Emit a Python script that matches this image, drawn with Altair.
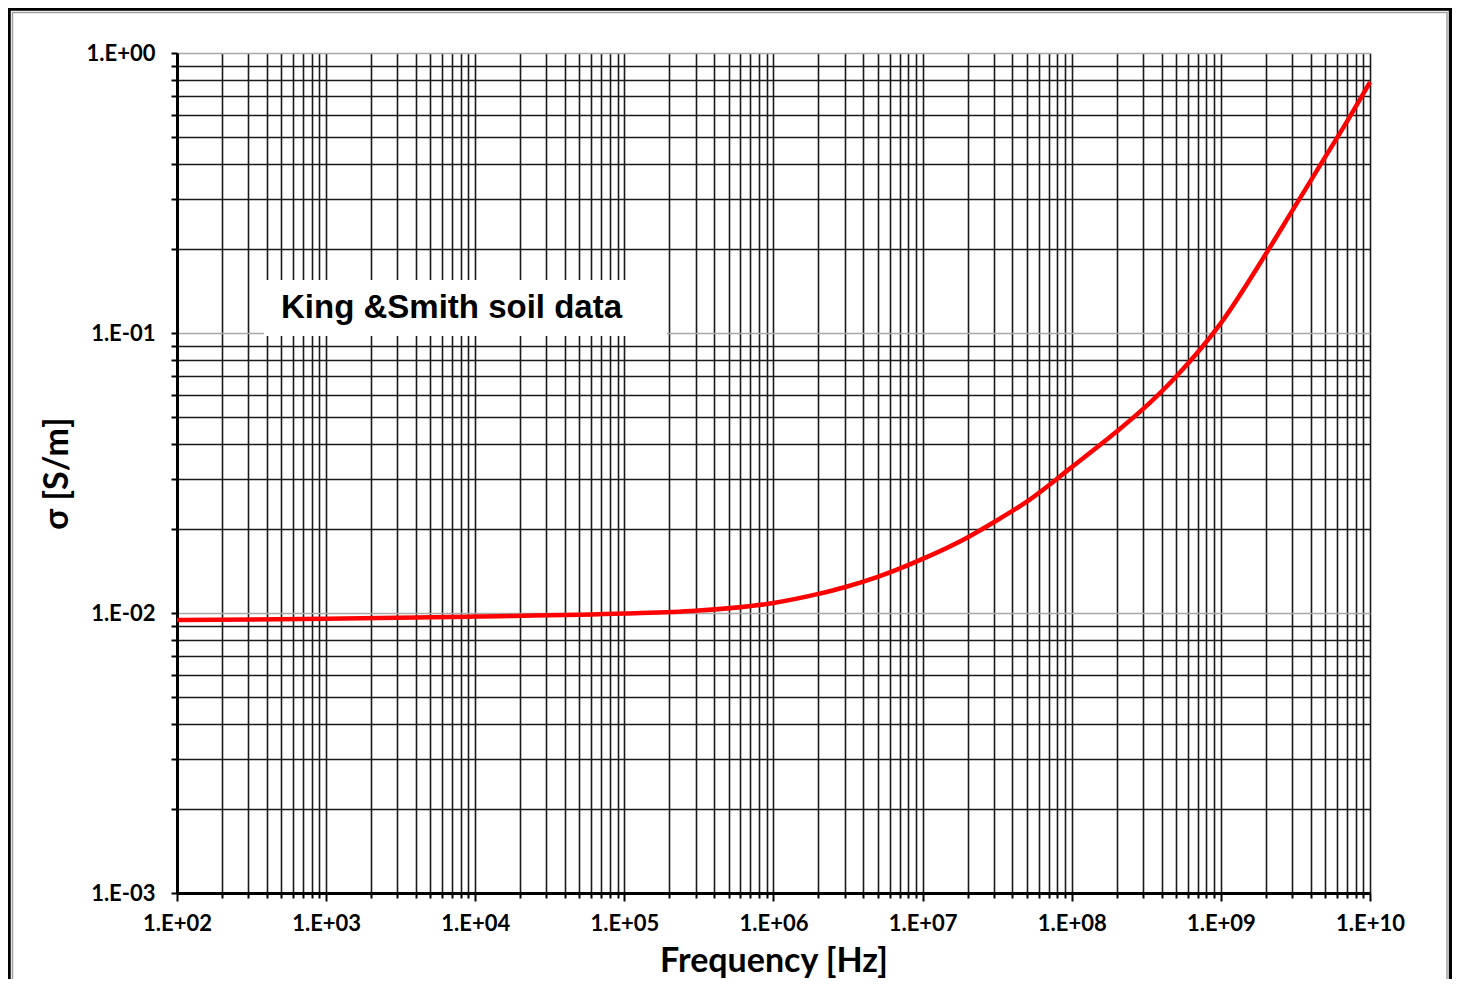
import altair as alt
import pandas as pd

# ---- data ----
freq_hz = [1e2, 1e3, 1e4, 1e5, 3e5, 1e6, 2e6, 3e6, 5e6, 1e7, 2e7, 3e7, 5e7,
           1e8, 2e8, 3e8, 5e8, 1e9, 2e9, 3e9, 5e9, 7e9, 1e10]
sigma_sm = [0.00944, 0.00953, 0.00971, 0.00995, 0.01019, 0.01086, 0.01170,
            0.01236, 0.01346, 0.01560, 0.01862, 0.02109, 0.02500, 0.03319,
            0.04446, 0.05346, 0.06982, 0.1084, 0.1914, 0.2723, 0.4246,
            0.5689, 0.7870]

x_exponents = [2, 3, 4, 5, 6, 7, 8, 9]
y_exponents = [-3, -2, -1]
multipliers = [1, 2, 3, 4, 5, 6, 7, 8, 9]
x_ticks = [m * 10.0 ** e for e in x_exponents for m in multipliers] + [1e10]
y_ticks = [m * 10.0 ** e for e in y_exponents for m in multipliers] + [1.0]

note_text = "King &Smith soil data"
note_box_f = [383, 1.93e5]
note_box_s = [0.0975, 0.1546]
note_text_f = [498]
note_text_s = [0.113]

curve = pd.DataFrame({"f": freq_hz, "s": sigma_sm})
box = pd.DataFrame({"f": [note_box_f[0]], "f2": [note_box_f[1]],
                    "s": [note_box_s[0]], "s2": [note_box_s[1]]})
label = pd.DataFrame({"f": note_text_f, "s": note_text_s, "t": [note_text]})
one = pd.DataFrame({"a": [0]})

DEC = "abs(log(datum.value)/LN10 - round(log(datum.value)/LN10)) < 0.001"
LBL = ("(" + DEC + ") ? ('1.E' + (round(log(datum.value)/LN10) < 0 ? '-' : '+') + "
       "(abs(round(log(datum.value)/LN10)) < 10 ? '0' : '') + "
       "abs(round(log(datum.value)/LN10))) : ''")

FONT = "Lato"

x_axis = alt.Axis(
    values=x_ticks, labelExpr=LBL, grid=True, gridColor="#1a1a1a", gridWidth=1.6,
    domainColor="black", domainWidth=3, tickColor="black", tickWidth=2,
    tickSize={"condition": {"test": DEC, "value": 8}, "value": 5},
    labelFont=FONT, labelFontWeight="bold", labelFontSize=22, labelColor="black",
    labelPadding=12, labelOverlap=False, labelFlush=False, labelBound=False,
    title="Frequency [Hz]", titleFont=FONT, titleFontWeight="bold",
    titleFontSize=34, titleColor="black", titleY=78, titleBaseline="alphabetic",
)
y_axis = alt.Axis(
    values=y_ticks, labelExpr=LBL, grid=True,
    gridColor={"condition": {"test": DEC, "value": "#a8a8a8"}, "value": "#1a1a1a"},
    gridWidth=1.6,
    domainColor="black", domainWidth=3, tickColor="black", tickWidth=2, tickSize=6,
    labelFont=FONT, labelFontWeight="bold", labelFontSize=22, labelColor="black",
    labelPadding=16, labelOverlap=False, labelFlush=False, labelBound=False,
    title="σ [S/m]", titleFont=FONT, titleFontWeight="bold", titleFontSize=34,
    titleColor="black", titleX=-110, titleBaseline="alphabetic",
)

xs = alt.Scale(type="log", domain=[1e2, 1e10], nice=False)
ys = alt.Scale(type="log", domain=[1e-3, 1.0], nice=False)

line = alt.Chart(curve).mark_line(color="#ff0000", strokeWidth=4.5,
                                  interpolate="monotone").encode(
    x=alt.X("f:Q", scale=xs, axis=x_axis),
    y=alt.Y("s:Q", scale=ys, axis=y_axis),
)

note_bg = alt.Chart(box).mark_rect(fill="white").encode(
    x="f:Q", x2="f2:Q", y="s:Q", y2="s2:Q")

note = alt.Chart(label).mark_text(
    align="left", baseline="alphabetic", font="Liberation Sans",
    fontWeight="bold", fontSize=33, color="black").encode(
    x="f:Q", y="s:Q", text="t:N")

frame_outer = alt.Chart(one).mark_rect(
    fill="transparent", stroke="black", strokeWidth=3.5, clip=False).encode(
    x=alt.value(-168), x2=alt.value(1273.5), y=alt.value(-44), y2=alt.value(1000))
frame_inner = alt.Chart(one).mark_rect(
    fill="transparent", stroke="#a0a0a0", strokeWidth=1.5, clip=False).encode(
    x=alt.value(-164.5), x2=alt.value(1270), y=alt.value(-40.5), y2=alt.value(1000))

chart = alt.layer(note_bg, note, line, frame_inner, frame_outer).properties(
    width=1193, height=840,
    autosize=alt.AutoSizeParams(type="none"),
    padding={"left": 169, "top": 45, "right": 82, "bottom": 86},
    background="white",
).configure_view(strokeWidth=0)

chart.save("out.html", embed_options={"renderer": "svg", "actions": False})
